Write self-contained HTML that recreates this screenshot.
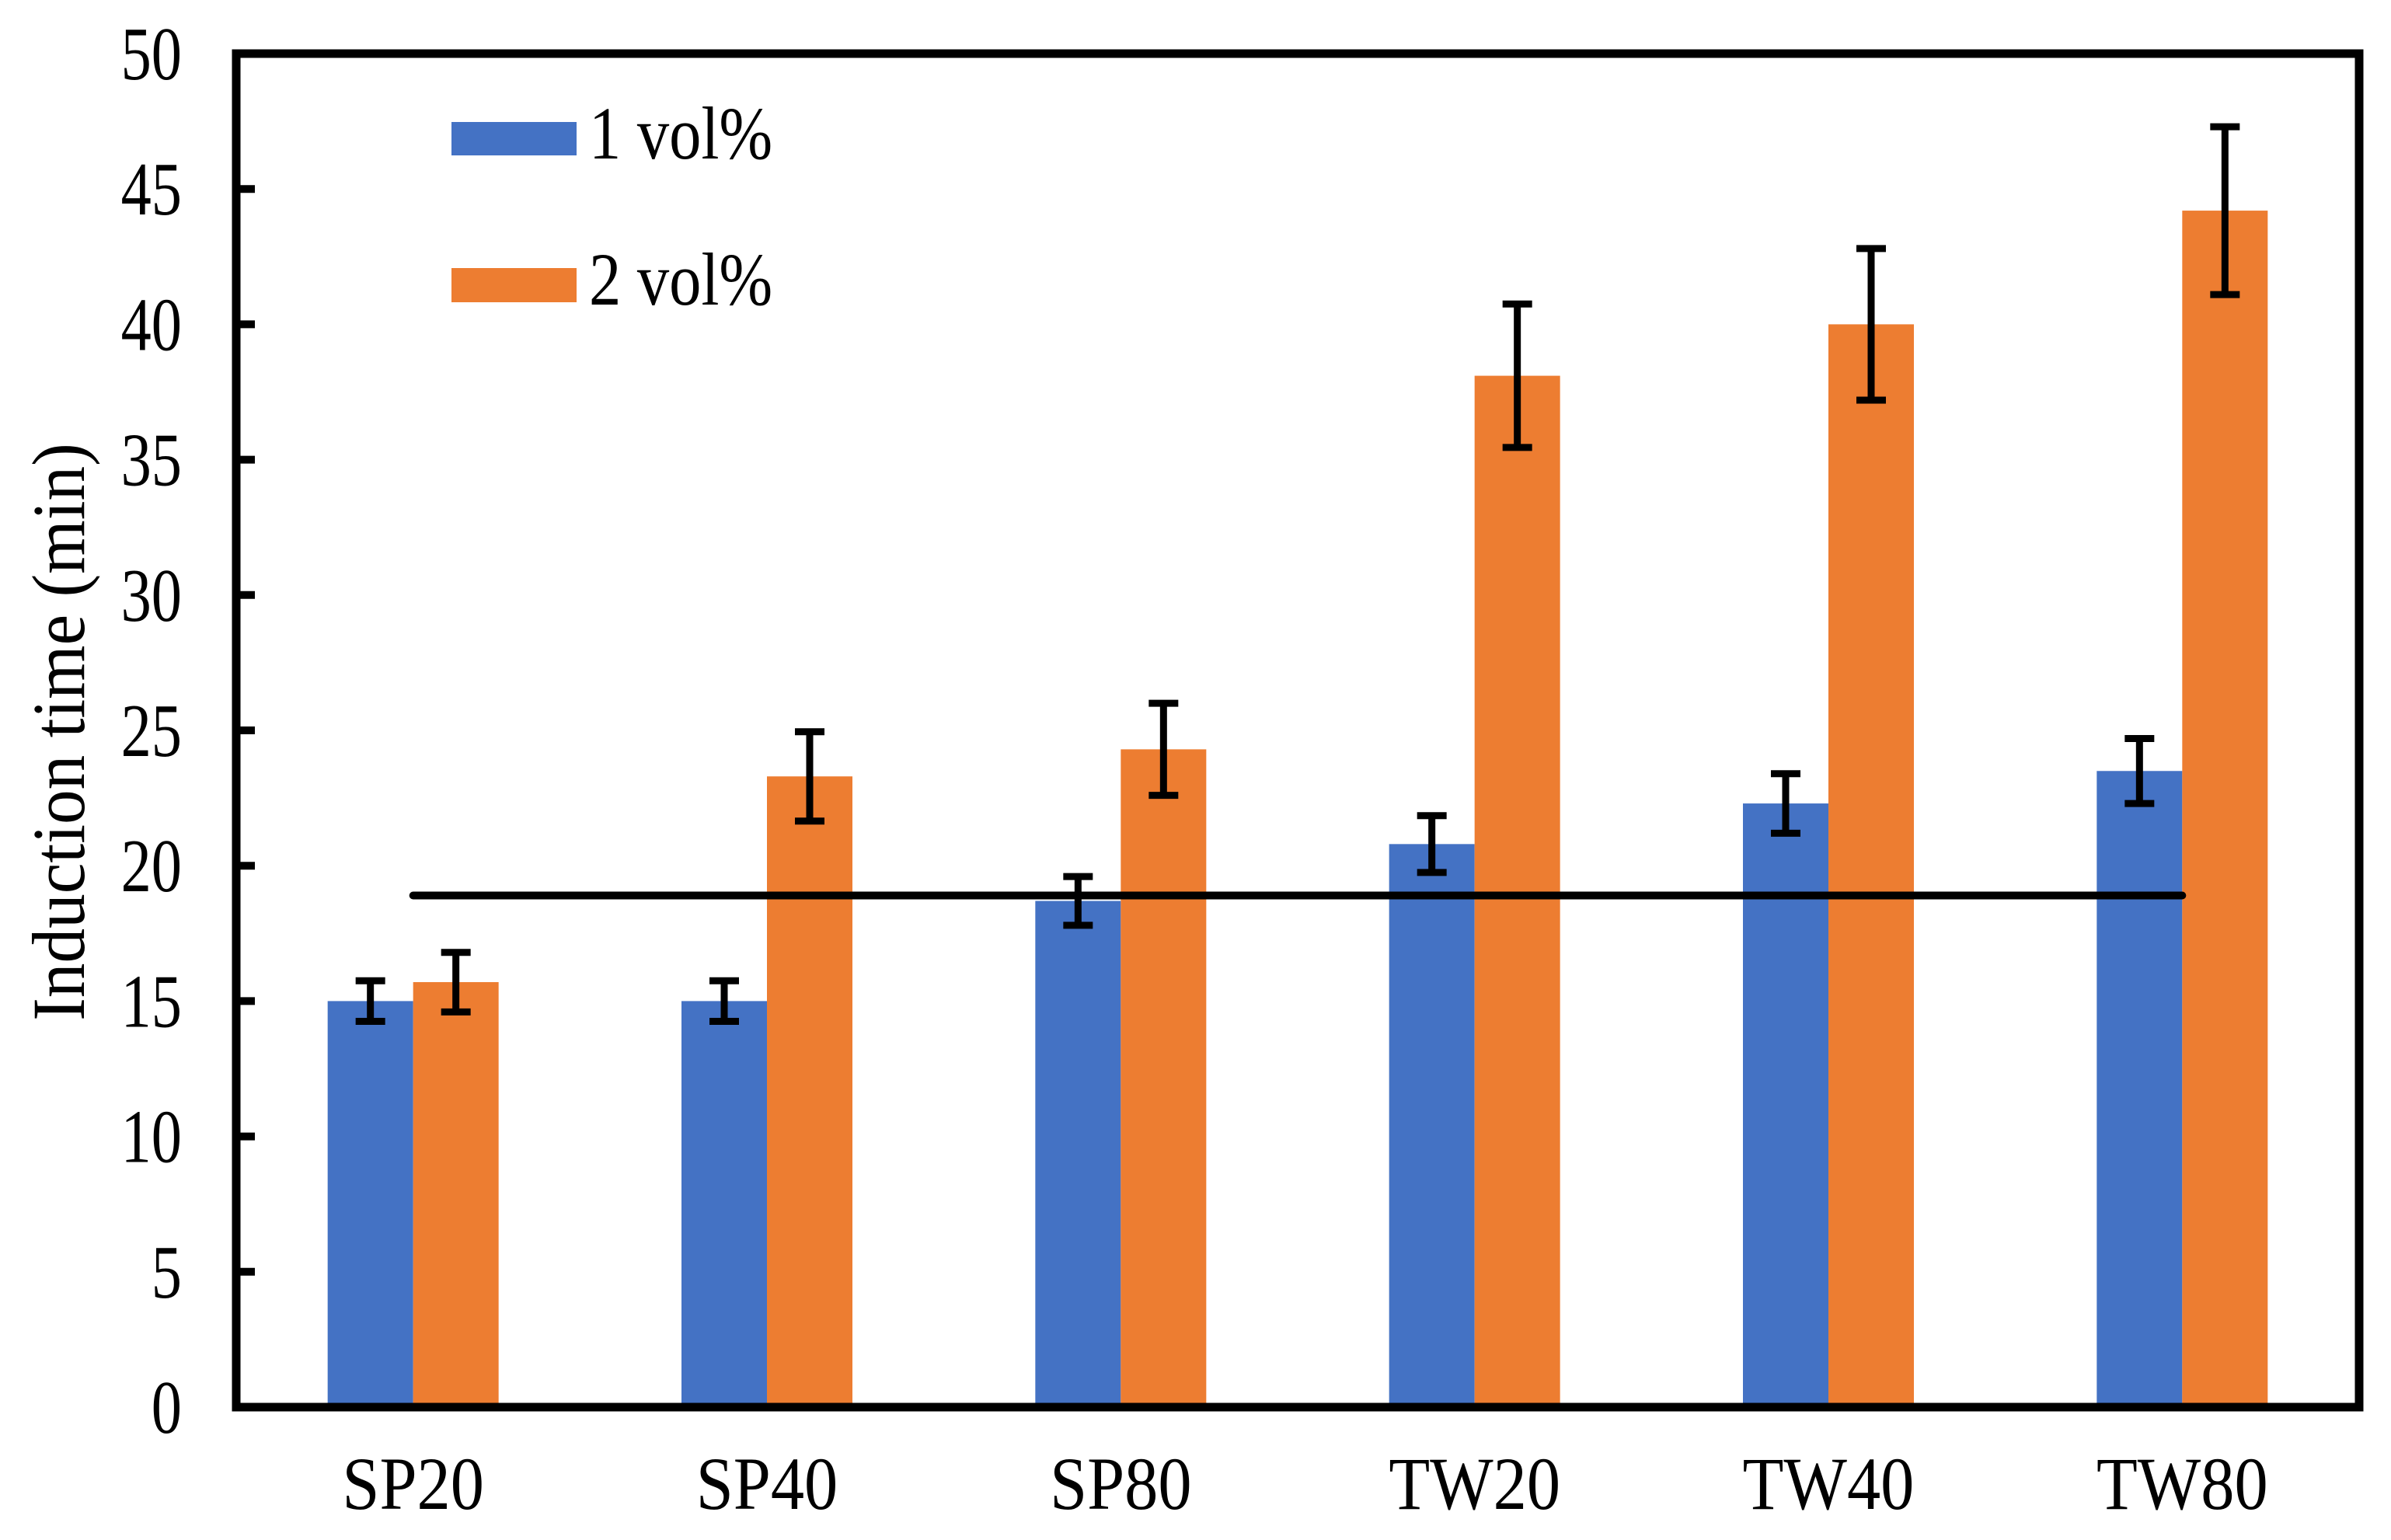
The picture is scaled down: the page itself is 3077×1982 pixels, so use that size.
<!DOCTYPE html>
<html><head><meta charset="utf-8"><style>
html,body{margin:0;padding:0;background:#fff;}
svg{display:block;font-family:"Liberation Serif",serif;}
</style></head><body>
<svg id="chart" width="3077" height="1982" viewBox="0 0 3077 1982" xmlns="http://www.w3.org/2000/svg">
<rect x="0" y="0" width="3077" height="1982" fill="#fff"/>
<g id="bars"></g>
<g id="errs"></g>
<g id="axes"></g>
<g>
<rect x="581" y="157" width="161" height="43" fill="#4472C4"/>
<text transform="translate(758,204) scale(0.86,1)" font-size="96">1 vol%</text>
<rect x="581" y="345" width="161" height="44" fill="#ED7D31"/>
<text transform="translate(758,392) scale(0.86,1)" font-size="96">2 vol%</text>
</g>
<text transform="translate(108,942) rotate(-90) scale(0.93,1)" text-anchor="middle" font-size="96">Induction time (min)</text>
</svg>
<script>
const categories = ["SP20","SP40","SP80","TW20","TW40","TW80"];
const vol1 = [15, 15, 18.7, 20.8, 22.3, 23.5];
const vol1Err = [0.75, 0.75, 0.9, 1.05, 1.1, 1.2];
const vol2 = [15.7, 23.3, 24.3, 38.1, 40.0, 44.2];
const vol2Err = [1.1, 1.65, 1.7, 2.65, 2.8, 3.1];
const yTicks = [0,5,10,15,20,25,30,35,40,45,50];
const refLine = 18.9;

const NS = "http://www.w3.org/2000/svg";
const L = 304, R = 3036, T = 69, B = 1811;
const yMin = 0, yMax = 50;
function y(v){ return B - (v - yMin) / (yMax - yMin) * (B - T); }
const band = (R - L) / categories.length;
function xc(i){ return L + band * (i + 0.5); }
const bw = 110;
function mk(tag, attrs, parent){
  const e = document.createElementNS(NS, tag);
  for (const k in attrs) e.setAttribute(k, attrs[k]);
  parent.appendChild(e);
  return e;
}
const gb = document.getElementById('bars');
const ge = document.getElementById('errs');
const ga = document.getElementById('axes');
const series = [[vol1, vol1Err, "#4472C4", -1, "1vol"], [vol2, vol2Err, "#ED7D31", 0, "2vol"]];
series.forEach(s => {
  s[0].forEach((v, i) => {
    const x0 = xc(i) + s[3] * bw;
    const r = mk('rect', {x: x0, y: y(v), width: bw, height: y(0) - y(v), fill: s[2]}, gb);
    
    
    const cx = x0 + bw / 2, e = s[1][i];
    const g = mk('g', {stroke: '#000', 'stroke-width': 9}, ge);
    
    
    mk('line', {x1: cx, x2: cx, y1: y(v + e), y2: y(v - e)}, g);
    mk('line', {x1: cx - 19, x2: cx + 19, y1: y(v + e), y2: y(v + e)}, g);
    mk('line', {x1: cx - 19, x2: cx + 19, y1: y(v - e), y2: y(v - e)}, g);
  });
});
const rl = mk('line', {x1: xc(0), x2: xc(5), y1: y(refLine), y2: y(refLine), stroke: '#000', 'stroke-width': 10, 'stroke-linecap': 'round'}, ge);


const fr = mk('rect', {x: L, y: T, width: R - L, height: B - T, fill: 'none', stroke: '#000', 'stroke-width': 11}, ga);


yTicks.forEach(t => {
  const tk = mk('line', {x1: L, x2: L + 24, y1: y(t), y2: y(t), stroke: '#000', 'stroke-width': 10}, ga);
  
  
  const tl = mk('text', {transform: 'translate(234,' + (y(t) + 33) + ') scale(0.8,1)', 'text-anchor': 'end', 'font-size': 98}, ga);
  tl.textContent = t;
  
  
});
categories.forEach((c, i) => {
  const tl = mk('text', {transform: 'translate(' + xc(i) + ',1942) scale(0.9,1)', 'text-anchor': 'middle', 'font-size': 96}, ga);
  tl.textContent = c;
  
  
});
</script>
</body></html>
